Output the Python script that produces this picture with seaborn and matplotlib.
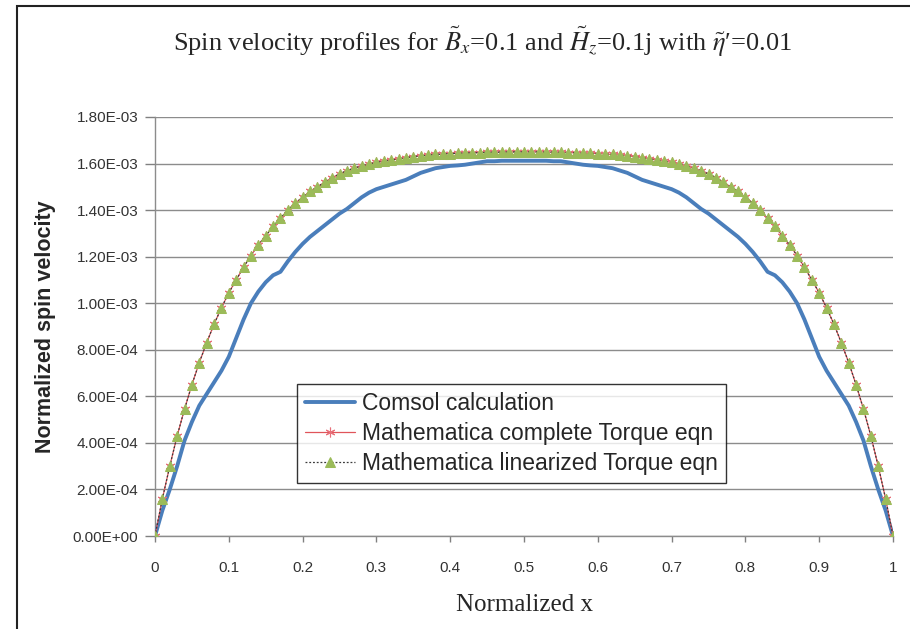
import numpy as np
import pandas as pd
import matplotlib
matplotlib.use("Agg")
import matplotlib.pyplot as plt
import matplotlib.ticker as mticker
from matplotlib.patches import Rectangle
import seaborn as sns

# sample points along the normalized x axis
x_pos = np.round(np.linspace(0, 1, 101), 2)

# Comsol calculation (units of 1e-4)
comsol_e4 = [
    0, 1.1, 2.0, 3.0, 4.1, 4.9, 5.6, 6.1, 6.6, 7.1,
    7.7, 8.5, 9.3, 10.0, 10.5, 10.9, 11.2, 11.35, 11.8, 12.2,
    12.55, 12.85, 13.1, 13.35, 13.6, 13.85, 14.05, 14.3, 14.55, 14.75,
    14.9, 15.0, 15.1, 15.2, 15.3, 15.45, 15.6, 15.7, 15.8, 15.85,
    15.9, 15.92, 15.95, 16.0, 16.05, 16.1, 16.1, 16.12, 16.12, 16.12,
    16.12,
    16.12, 16.12, 16.12, 16.1, 16.1, 16.05, 16.0, 15.95, 15.92, 15.9,
    15.85, 15.8, 15.7, 15.6, 15.45, 15.3, 15.2, 15.1, 15.0, 14.9,
    14.75, 14.55, 14.3, 14.05, 13.85, 13.6, 13.35, 13.1, 12.85, 12.55,
    12.2, 11.8, 11.35, 11.2, 10.9, 10.5, 10.0, 9.3, 8.5, 7.7,
    7.1, 6.6, 6.1, 5.6, 4.9, 4.1, 3.0, 2.0, 1.1, 0,
]

# Mathematica complete Torque eqn (units of 1e-4)
complete_e4 = [
    0, 1.6, 3.0, 4.3, 5.45, 6.5, 7.45, 8.3, 9.1, 9.8,
    10.45, 11.0, 11.55, 12.05, 12.5, 12.9, 13.3, 13.65, 14.0, 14.3,
    14.55, 14.8, 15.0, 15.2, 15.4, 15.55, 15.7, 15.8, 15.9, 15.98,
    16.05, 16.1, 16.15, 16.2, 16.25, 16.3, 16.33, 16.36, 16.39, 16.41,
    16.43, 16.44, 16.45, 16.46, 16.47, 16.48, 16.49, 16.49, 16.5, 16.5,
    16.5,
    16.5, 16.5, 16.49, 16.49, 16.48, 16.47, 16.46, 16.45, 16.44, 16.43,
    16.41, 16.39, 16.36, 16.33, 16.3, 16.25, 16.2, 16.15, 16.1, 16.05,
    15.98, 15.9, 15.8, 15.7, 15.55, 15.4, 15.2, 15.0, 14.8, 14.55,
    14.3, 14.0, 13.65, 13.3, 12.9, 12.5, 12.05, 11.55, 11.0, 10.45,
    9.8, 9.1, 8.3, 7.45, 6.5, 5.45, 4.3, 3.0, 1.6, 0,
]

# Mathematica linearized Torque eqn: indistinguishable from the complete one
linear_e4 = list(complete_e4)

y_ticks = np.arange(0, 1.81e-3, 2e-4)
x_ticks = np.round(np.arange(0, 1.01, 0.1), 1)

df = pd.DataFrame({
    "x": x_pos,
    "comsol": np.array(comsol_e4) * 1e-4,
    "complete": np.array(complete_e4) * 1e-4,
    "linear": np.array(linear_e4) * 1e-4,
})

sns.set_style("white")
plt.rcParams["font.family"] = ["Liberation Sans", "DejaVu Sans"]
plt.rcParams["mathtext.fontset"] = "stix"

fig = plt.figure(figsize=(9.1, 6.29), dpi=100)
ax = fig.add_axes([155 / 910, 93 / 629, 738 / 910, 419 / 629])

sns.lineplot(data=df, x="x", y="comsol", ax=ax, color="#4a7ebb", lw=2.8,
             label="Comsol calculation", zorder=3)
sns.lineplot(data=df, x="x", y="complete", ax=ax, color="#e0555a", lw=0.9,
             marker=(6, 2, 0), markersize=7, markeredgecolor="#e8707a",
             markeredgewidth=0.8, label="Mathematica complete Torque eqn",
             zorder=4)
sns.lineplot(data=df, x="x", y="linear", ax=ax, color="#3a3a3a", lw=0.9,
             linestyle=(0, (1.5, 1.5)), marker="^", markersize=7,
             markerfacecolor="#9bbb59", markeredgecolor="#9bbb59",
             label="Mathematica linearized Torque eqn", zorder=5)

ax.set_xlim(0, 1)
ax.set_ylim(0, 1.8e-3)
ax.set_xticks(x_ticks)
ax.set_yticks(y_ticks)
ax.xaxis.set_major_formatter(mticker.FuncFormatter(lambda v, p: f"{v:g}"))
ax.yaxis.set_major_formatter(mticker.FuncFormatter(lambda v, p: f"{v:.2E}"))
ax.tick_params(axis="y", labelsize=11, colors="#808080", length=7,
               width=1.0, direction="out", pad=5, labelcolor="#333333")
ax.tick_params(axis="x", labelsize=11, colors="#808080", length=4,
               width=1.0, direction="out", pad=14, labelcolor="#333333")
ax.xaxis.set_ticks_position("bottom")
ax.yaxis.set_ticks_position("left")
ax.grid(axis="y", color="#8c8c8c", lw=1.0)
ax.grid(axis="x", visible=False)
ax.set_axisbelow(True)
for side in ["top", "right"]:
    ax.spines[side].set_visible(False)
for side in ["left", "bottom"]:
    ax.spines[side].set_color("#8c8c8c")
    ax.spines[side].set_linewidth(1.0)

ax.set_xlabel("Normalized x", family="Liberation Serif", fontsize=18,
              labelpad=14)
ax.set_ylabel("Normalized spin velocity", fontsize=15.5, fontweight="bold",
              labelpad=12)

fig.text(0.53, 0.933,
         r"Spin velocity profiles for $\tilde{B}_x$=0.1 and $\tilde{H}_z$=0.1j with $\tilde{\eta}$′=0.01",
         ha="center", va="center", family=["Liberation Serif", "DejaVu Serif"],
         fontsize=19)

leg = ax.legend(loc="lower left", bbox_to_anchor=(0.192, 0.126),
                borderaxespad=0, fontsize=16.5, frameon=True, fancybox=False,
                edgecolor="black", handlelength=2.2, handletextpad=0.3,
                labelspacing=0.3, borderpad=0.35)
leg.get_frame().set_linewidth(1.0)

# outer chart frame
fig.add_artist(Rectangle((17 / 910, -0.1), 1.2, 0.1 + 623 / 629,
                         transform=fig.transFigure, fill=False,
                         edgecolor="#222222", lw=1.5))

fig.savefig("out.png", dpi=100)
